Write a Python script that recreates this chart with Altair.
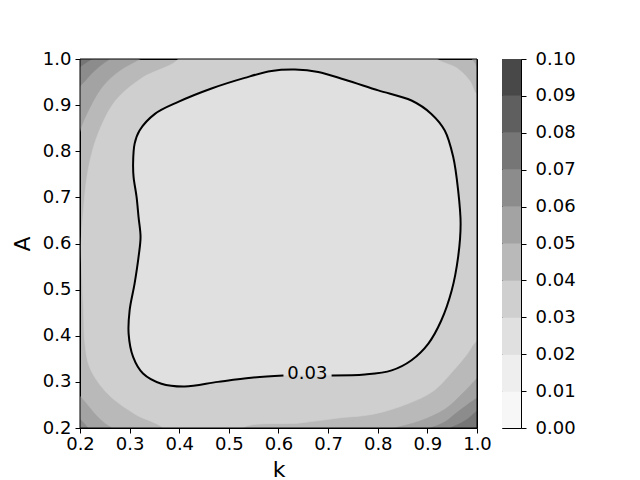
import altair as alt
import pandas as pd

# ---------------- tick values ----------------
X_TICKS = [0.2, 0.3, 0.4, 0.5, 0.6, 0.7, 0.8, 0.9, 1.0]
Y_TICKS = [0.2, 0.3, 0.4, 0.5, 0.6, 0.7, 0.8, 0.9, 1.0]
CBAR_TICKS = [0.00, 0.01, 0.02, 0.03, 0.04, 0.05, 0.06, 0.07, 0.08, 0.09, 0.10]

# ---------------- colour levels ----------------
LEVEL_LO = [0.00, 0.01, 0.02, 0.03, 0.04, 0.05, 0.06, 0.07, 0.08, 0.09]
LEVEL_HI = [0.01, 0.02, 0.03, 0.04, 0.05, 0.06, 0.07, 0.08, 0.09, 0.10]
LEVEL_COLORS = ["#f7f7f7", "#eeeeee", "#e0e0e0", "#cfcfcf", "#b9b9b9",
                "#a3a3a3", "#8c8c8c", "#767676", "#5f5f5f", "#484848"]

# ---------------- contour outlines (k, A) ----------------
# region below 0.04 (band 0.03-0.04)
C04_K = [0.40, 0.398, 0.325, 0.271, 0.236, 0.220, 0.212, 0.206, 0.202, 0.204, 0.207,
         0.210, 0.220, 0.256, 0.311, 0.367, 0.38, 0.52, 0.529, 0.644, 0.724, 0.791,
         0.859, 0.912, 0.952, 0.980, 1.0, 1.03, 1.03, 1.0, 0.986, 0.960, 0.920, 0.90]
C04_A = [1.03, 1.0, 0.959, 0.909, 0.837, 0.779, 0.729, 0.660, 0.600, 0.530, 0.454,
         0.382, 0.330, 0.274, 0.230, 0.200, 0.17, 0.17, 0.200, 0.211, 0.222, 0.230,
         0.252, 0.280, 0.324, 0.360, 0.389, 0.40, 0.92, 0.924, 0.952, 0.980, 1.0, 1.03]

# corner regions above 0.05, 0.06, 0.07
TL05_K = [0.36, 0.321, 0.280, 0.245, 0.220, 0.205, 0.200, 0.19, 0.17]
TL05_A = [1.025, 1.0, 0.975, 0.940, 0.895, 0.860, 0.844, 0.81, 1.03]
TL06_K = [0.28, 0.260, 0.240, 0.222, 0.208, 0.200, 0.19, 0.17]
TL06_A = [1.015, 1.0, 0.985, 0.967, 0.950, 0.941, 0.925, 1.03]
TL07_K = [0.24, 0.224, 0.212, 0.200, 0.19, 0.17]
TL07_A = [1.01, 1.0, 0.992, 0.983, 0.975, 1.03]
TR05_K = [0.98, 0.990, 0.996, 1.0, 1.01, 1.03]
TR05_A = [1.015, 1.0, 0.992, 0.983, 0.97, 1.03]
BL05_K = [0.19, 0.200, 0.215, 0.232, 0.250, 0.264, 0.275, 0.17]
BL05_A = [0.28, 0.269, 0.250, 0.228, 0.210, 0.200, 0.19, 0.17]
BL06_K = [0.19, 0.200, 0.208, 0.216, 0.225, 0.17]
BL06_A = [0.23, 0.219, 0.210, 0.200, 0.19, 0.17]
BR05_K = [0.82, 0.835, 0.885, 0.936, 0.970, 1.0, 1.01, 1.03]
BR05_A = [0.195, 0.200, 0.215, 0.241, 0.274, 0.308, 0.32, 0.17]
BR06_K = [0.89, 0.906, 0.935, 0.959, 0.980, 1.0, 1.01, 1.03]
BR06_A = [0.195, 0.200, 0.213, 0.233, 0.250, 0.265, 0.273, 0.17]
BR07_K = [0.93, 0.946, 0.975, 1.0, 1.01, 1.03]
BR07_A = [0.193, 0.200, 0.215, 0.237, 0.246, 0.17]

# the labelled 0.03 contour (open at the label)
C03_K = [0.707, 0.774, 0.828, 0.868, 0.902, 0.928, 0.949, 0.962, 0.967, 0.962, 0.952,
         0.935, 0.908, 0.868, 0.801, 0.734, 0.680, 0.633, 0.586, 0.532, 0.465, 0.398,
         0.351, 0.320, 0.310, 0.307, 0.308, 0.314, 0.318, 0.322, 0.318, 0.310, 0.300,
         0.298, 0.307, 0.327, 0.364, 0.411, 0.478, 0.545, 0.610]
C03_A = [0.314, 0.316, 0.325, 0.347, 0.383, 0.433, 0.498, 0.571, 0.643, 0.715, 0.788,
         0.845, 0.881, 0.910, 0.932, 0.955, 0.972, 0.977, 0.974, 0.959, 0.936, 0.907,
         0.881, 0.845, 0.816, 0.773, 0.744, 0.701, 0.657, 0.614, 0.571, 0.513, 0.455,
         0.404, 0.354, 0.318, 0.296, 0.290, 0.300, 0.309, 0.314]
LABEL_K = [0.658]
LABEL_A = [0.317]
LABEL_TEXT = ["0.03"]

FONT = "DejaVu Sans"

xscale = alt.Scale(domain=[0.2, 1.0], nice=False, zero=False)
yscale = alt.Scale(domain=[0.2, 1.0], nice=False, zero=False)
xaxis = alt.Axis(values=X_TICKS, format=".1f", title="k", labelPadding=2,
                 titlePadding=6, labelFlush=False)
yaxis = alt.Axis(values=Y_TICKS, format=".1f", title="A", labelPadding=4,
                 titlePadding=8, labelFlush=False)


def enc(chart):
    return chart.encode(
        x=alt.X("k:Q", scale=xscale, axis=xaxis),
        y=alt.Y("A:Q", scale=yscale, axis=yaxis),
    )


def poly(ks, As, color):
    df = pd.DataFrame({"k": ks, "A": As, "i": list(range(len(ks)))})
    return enc(alt.Chart(df).mark_line(
        fill=color, stroke=color, strokeWidth=0.6,
        interpolate="catmull-rom", clip=True,
    )).encode(order="i:Q")


layers = [
    poly(C04_K, C04_A, LEVEL_COLORS[3]),
    poly(TL05_K, TL05_A, LEVEL_COLORS[5]),
    poly(TL06_K, TL06_A, LEVEL_COLORS[6]),
    poly(TL07_K, TL07_A, LEVEL_COLORS[7]),
    poly(TR05_K, TR05_A, LEVEL_COLORS[5]),
    poly(BL05_K, BL05_A, LEVEL_COLORS[5]),
    poly(BL06_K, BL06_A, LEVEL_COLORS[6]),
    poly(BR05_K, BR05_A, LEVEL_COLORS[5]),
    poly(BR06_K, BR06_A, LEVEL_COLORS[6]),
    poly(BR07_K, BR07_A, LEVEL_COLORS[7]),
    poly(C03_K, C03_A, LEVEL_COLORS[2]),
]

line_df = pd.DataFrame({"k": C03_K, "A": C03_A, "i": list(range(len(C03_K)))})
line = enc(alt.Chart(line_df).mark_line(
    color="black", strokeWidth=2, interpolate="catmull-rom", clip=True
)).encode(order="i:Q")

label_df = pd.DataFrame({"k": LABEL_K, "A": LABEL_A, "t": LABEL_TEXT})
label = enc(alt.Chart(label_df).mark_text(
    font=FONT, fontSize=18, color="black", align="center", baseline="middle"
)).encode(text="t:N")

# frame of the plot area, drawn above the filled regions
frame = alt.Chart(pd.DataFrame({"f": [0]})).mark_rect(
    fillOpacity=0, stroke="black", strokeWidth=1
).encode(
    x=alt.value(0), x2=alt.value("width"),
    y=alt.value(0), y2=alt.value("height"),
)

main = alt.layer(*layers, line, label, frame).properties(width=397, height=369)

cbar_df = pd.DataFrame({
    "lo": LEVEL_LO, "hi": LEVEL_HI,
    "name": [f"{a:.2f}-{b:.2f}" for a, b in zip(LEVEL_LO, LEVEL_HI)],
})
cbar = alt.Chart(cbar_df).mark_rect().encode(
    y=alt.Y("lo:Q", scale=alt.Scale(domain=[0, 0.1], nice=False, zero=False),
            axis=alt.Axis(orient="right", values=CBAR_TICKS, format=".2f",
                          title=None, labelPadding=9, labelFlush=False)),
    y2="hi:Q",
    color=alt.Color("name:N", scale=alt.Scale(domain=list(cbar_df["name"]),
                                              range=LEVEL_COLORS), legend=None),
).properties(width=19, height=369)

chart = alt.hconcat(
    main, cbar, spacing=25, bounds="flush", background="white",
    padding={"left": 2, "top": 41, "right": 10, "bottom": 0},
).configure_view(
    stroke="black", strokeWidth=1, fill=LEVEL_COLORS[4]
).configure_axis(
    labelFont=FONT, labelFontSize=18, labelColor="black",
    titleFont=FONT, titleFontSize=22, titleFontWeight="normal", titleColor="black",
    tickColor="black", tickSize=5, tickWidth=1, domain=False, grid=False,
)

chart.save("out.html", embed_options={"renderer": "svg", "actions": False})
